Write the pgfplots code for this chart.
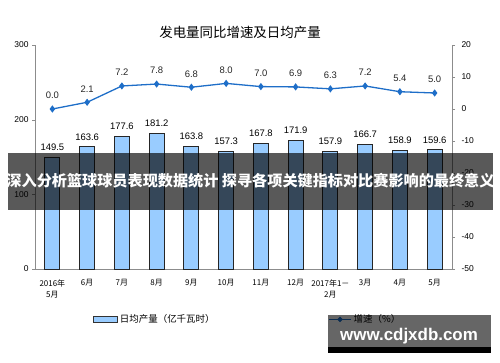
\documentclass[border=0pt]{standalone}
\usepackage{pgfplots}
\pgfplotsset{compat=1.18}
\usepackage{fontspec}
\setmainfont{Liberation Sans}
\newfontfamily\cjk{Noto Sans CJK SC}
\definecolor{barblue}{RGB}{153,204,255}
\definecolor{lineblue}{RGB}{30,110,200}
\definecolor{axgray}{RGB}{140,140,140}
\pgfplotstableread{
x prod rate
0 149.5 0.0
1 163.6 2.1
2 177.6 7.2
3 181.2 7.8
4 163.8 6.8
5 157.3 8.0
6 167.8 7.0
7 171.9 6.9
8 157.9 6.3
9 166.7 7.2
10 158.9 5.4
11 159.6 5.0
}\datatable
\begin{document}
\begin{tikzpicture}[x=1bp,y=1bp]
\path[use as bounding box] (0,0) rectangle (500,362);
% title
\node[font=\cjk\fontsize{13.5}{15}\selectfont] at (240,330) {发电量同比增速及日均产量};
\begin{axis}[
  at={(35bp,93bp)}, anchor=south west,
  scale only axis, width=417bp, height=224bp,
  xmin=-0.5, xmax=11.5, ymin=0, ymax=300,
  axis lines*=left,
  axis line style={axgray},
  ytick={0,100,200,300},
  tick align=outside,
  major tick length=3bp,
  tick style={axgray},
  xtick={0,...,11},
  xticklabels={{2016年\\5月},6月,7月,8月,9月,10月,11月,12月,{2017年1－\\2月},3月,4月,5月},
  x tick label style={font=\cjk\fontsize{8}{11}\selectfont, align=center, anchor=north, yshift=-4bp},
  xtick style={draw=none},
  extra x ticks={-0.5,0.5,...,11.5},
  extra x tick labels={},
  extra x tick style={tick align=inside, major tick length=3bp, tick style={axgray}},
  y tick label style={font=\fontsize{8.5}{10}\selectfont},
  /pgf/number format/assume math mode=true,
  ybar, bar width=15bp,
  nodes near coords,
  point meta=y,
  nodes near coords style={text=black, font=\fontsize{9.5}{11}\selectfont, /pgf/number format/.cd, fixed, precision=1, fixed zerofill, /tikz/.cd, yshift=3bp},
  legend style={at={(0.139,-0.225)}, anchor=west, draw=none, fill=none, inner sep=0pt, font=\cjk\fontsize{9.5}{11}\selectfont},
  legend image code/.code={\draw[fill=barblue, draw=black!80] (0bp,-3bp) rectangle (24bp,3bp);},
]
\addplot[fill=barblue, draw=black!85, line width=0.8bp] table[x=x, y=prod] {\datatable};
\addlegendentry{日均产量（亿千瓦时）}
\end{axis}
\begin{axis}[
  at={(35bp,93bp)}, anchor=south west,
  scale only axis, width=417bp, height=224bp,
  xmin=-0.5, xmax=11.5, ymin=-50, ymax=20,
  axis y line*=right, axis x line=none,
  axis line style={axgray},
  ytick={-50,-40,...,20},
  tick align=outside,
  major tick length=3bp,
  tick style={axgray},
  y tick label style={font=\fontsize{8.5}{10}\selectfont, xshift=3bp},
  /pgf/number format/assume math mode=true,
  nodes near coords,
  point meta=y,
  nodes near coords style={text=black!85, font=\fontsize{9.5}{11}\selectfont, /pgf/number format/.cd, fixed, precision=1, fixed zerofill, /tikz/.cd, yshift=6bp},
  legend style={at={(0.703,-0.225)}, anchor=west, draw=none, fill=none, inner sep=0pt, font=\cjk\fontsize{9.5}{11}\selectfont},
  legend image code/.code={\draw[lineblue, line width=1.3bp] (0bp,0bp) -- (22bp,0bp);
     \draw[lineblue, fill=lineblue, line width=0.5bp] (11bp,2.4bp) -- (13.4bp,0bp) -- (11bp,-2.4bp) -- (8.6bp,0bp) -- cycle;},
]
\addplot[lineblue, line width=1.3bp, mark=diamond*, mark size=2.6bp, mark options={fill=lineblue}] table[x=x, y=rate] {\datatable};
\addlegendentry{增速（\%）}
\end{axis}
% overlay banner
\fill[black, opacity=0.65] (8,152) rectangle (493,209);
\node[text=white, font=\cjk\bfseries\fontsize{15.2}{17}\selectfont] at (250.5,181) {深入分析篮球球员表现数据统计 探寻各项关键指标对比赛影响的最终意义};
% watermark
\fill[black, opacity=0.6] (328,9) rectangle (491,47);
\fill[black] (328,9) rectangle (491,15);
\node[text=white, font=\bfseries\fontsize{17}{19}\selectfont] at (409,25.5) {www.cdjxdb.com};
\end{tikzpicture}
\end{document}
